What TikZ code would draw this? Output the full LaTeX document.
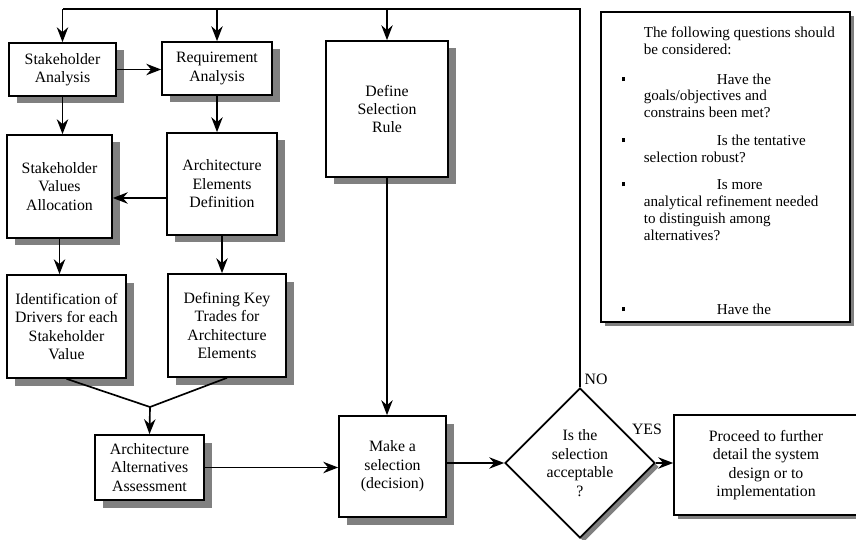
\documentclass[tikz,border=0pt]{standalone}
\usepackage{fontspec}
\setmainfont{Liberation Serif}
\usetikzlibrary{positioning, arrows.meta, shapes.geometric, shadows}
\newcommand{\qitem}[1]{\llap{\rule[0.06cm]{0.065cm}{0.085cm}\hspace{0.37cm}}\hspace*{1.46cm}#1}

\begin{document}
\begin{tikzpicture}[
    line width=0.95pt,
    arr/.style={-{Stealth[length=8.5pt, width=6.5pt, inset=2.8pt]}},
    blk/.style={
      draw, fill=white, align=center, inner sep=2pt,
      font=\fontsize{9}{10.5}\selectfont,
      drop shadow={shadow xshift=0.16cm, shadow yshift=-0.15cm, fill=black!50, opacity=1}
    },
    flat/.style={
      draw, fill=white, align=center, inner sep=2pt,
      font=\fontsize{9}{10.5}\selectfont,
      drop shadow={shadow xshift=0.08cm, shadow yshift=-0.08cm, fill=black!50, opacity=1}
    },
  ]
  \useasboundingbox (0,0) rectangle (17.12,-10.8);

  % left column
  \node[blk, minimum width=2.14cm, minimum height=1.06cm] (SA) at (1.25,-1.39) {Stakeholder\\Analysis};
  \node[blk, minimum width=2.20cm, minimum height=1.06cm] (RA) at (4.34,-1.37) {Requirement\\Analysis};
  \node[blk, minimum width=2.10cm, minimum height=2.06cm] (SVA) at (1.19,-3.73) {Stakeholder\\Values\\Allocation};
  \node[blk, minimum width=2.20cm, minimum height=2.04cm] (AED) at (4.44,-3.68) {Architecture\\Elements\\Definition};
  \node[blk, minimum width=2.38cm, minimum height=2.06cm] (IDS) at (1.33,-6.53) {Identification of\\Drivers for each\\Stakeholder\\Value};
  \node[blk, minimum width=2.36cm, minimum height=2.06cm] (DKT) at (4.54,-6.51) {Defining Key\\Trades for\\Architecture\\Elements};
  \node[blk, minimum width=2.18cm, minimum height=1.30cm] (AAA) at (2.99,-9.35) {Architecture\\Alternatives\\Assessment};

  % selection
  \node[blk, minimum width=2.44cm, minimum height=2.72cm] (DSR) at (7.74,-2.18) {Define\\Selection\\Rule};
  \node[blk, minimum width=2.14cm, minimum height=2.02cm] (MAS) at (7.85,-9.33) {Make a\\selection\\(decision)};
  \node[flat, diamond, aspect=1, minimum size=3cm, inner sep=0pt] (dec) at (11.6,-9.26) {Is the\\selection\\acceptable\\?};
  \node[flat, minimum width=3.68cm, minimum height=2cm] (PRO) at (15.32,-9.30) {Proceed to further\\detail the system\\design or to\\implementation};
  \node[font=\fontsize{9}{10.5}\selectfont] (no) at (11.92,-7.58) {NO};
  \node[font=\fontsize{9}{10.5}\selectfont] (yes) at (12.94,-8.58) {YES};

  % questions
  \node[flat, minimum width=4.98cm, minimum height=6.2cm] (notes) at (14.51,-3.34) {};
  \node[anchor=north west, align=left, inner sep=0pt, font=\fontsize{8.6}{9.6}\selectfont] (qs) at (12.86,-0.53) {%
    The following questions should\\be considered:\\[7pt]
    \qitem{Have the}\\goals/objectives and\\constrains been met?\\[6pt]
    \qitem{Is the tentative}\\selection robust?\\[6pt]
    \qitem{Is more}\\analytical refinement needed\\to distinguish among\\alternatives?\\[32.5pt]
    \qitem{Have the}
  };

  % connectors
  \coordinate (top) at (11.58,-0.18);
  \coordinate (merge) at (3.0,-8.14);
  \draw (dec.north) -- (dec.north |- top) -- (SA.north |- top);
  \draw[arr] (SA.north |- top) -- (SA.north);
  \draw[arr] (RA.north |- top) -- (RA.north);
  \draw[arr] (DSR.north |- top) -- (DSR.north);
  \draw[arr] (SA.east) -- (SA.east -| RA.west);
  \draw[arr] (SA.south) -- (SA.south |- SVA.north);
  \draw[arr] (RA.south) -- (RA.south |- AED.north);
  \draw[arr] ([yshift=-0.28cm]AED.west) -- ([yshift=-0.28cm]AED.west -| SVA.east);
  \draw[arr] (SVA.south) -- (SVA.south |- IDS.north);
  \draw[arr] (AED.south) -- (AED.south |- DKT.north);
  \draw (IDS.south) -- (merge) -- (DKT.south);
  \draw[arr] (merge) -- (AAA.north);
  \draw[arr] (AAA.east) -- (AAA.east -| MAS.west);
  \draw[arr] (DSR.south) -- (DSR.south |- MAS.north);
  \draw[arr] (MAS.east |- dec.west) -- (dec.west);
  \draw[arr] (dec.east) -- (dec.east -| PRO.west);
\end{tikzpicture}
\end{document}
